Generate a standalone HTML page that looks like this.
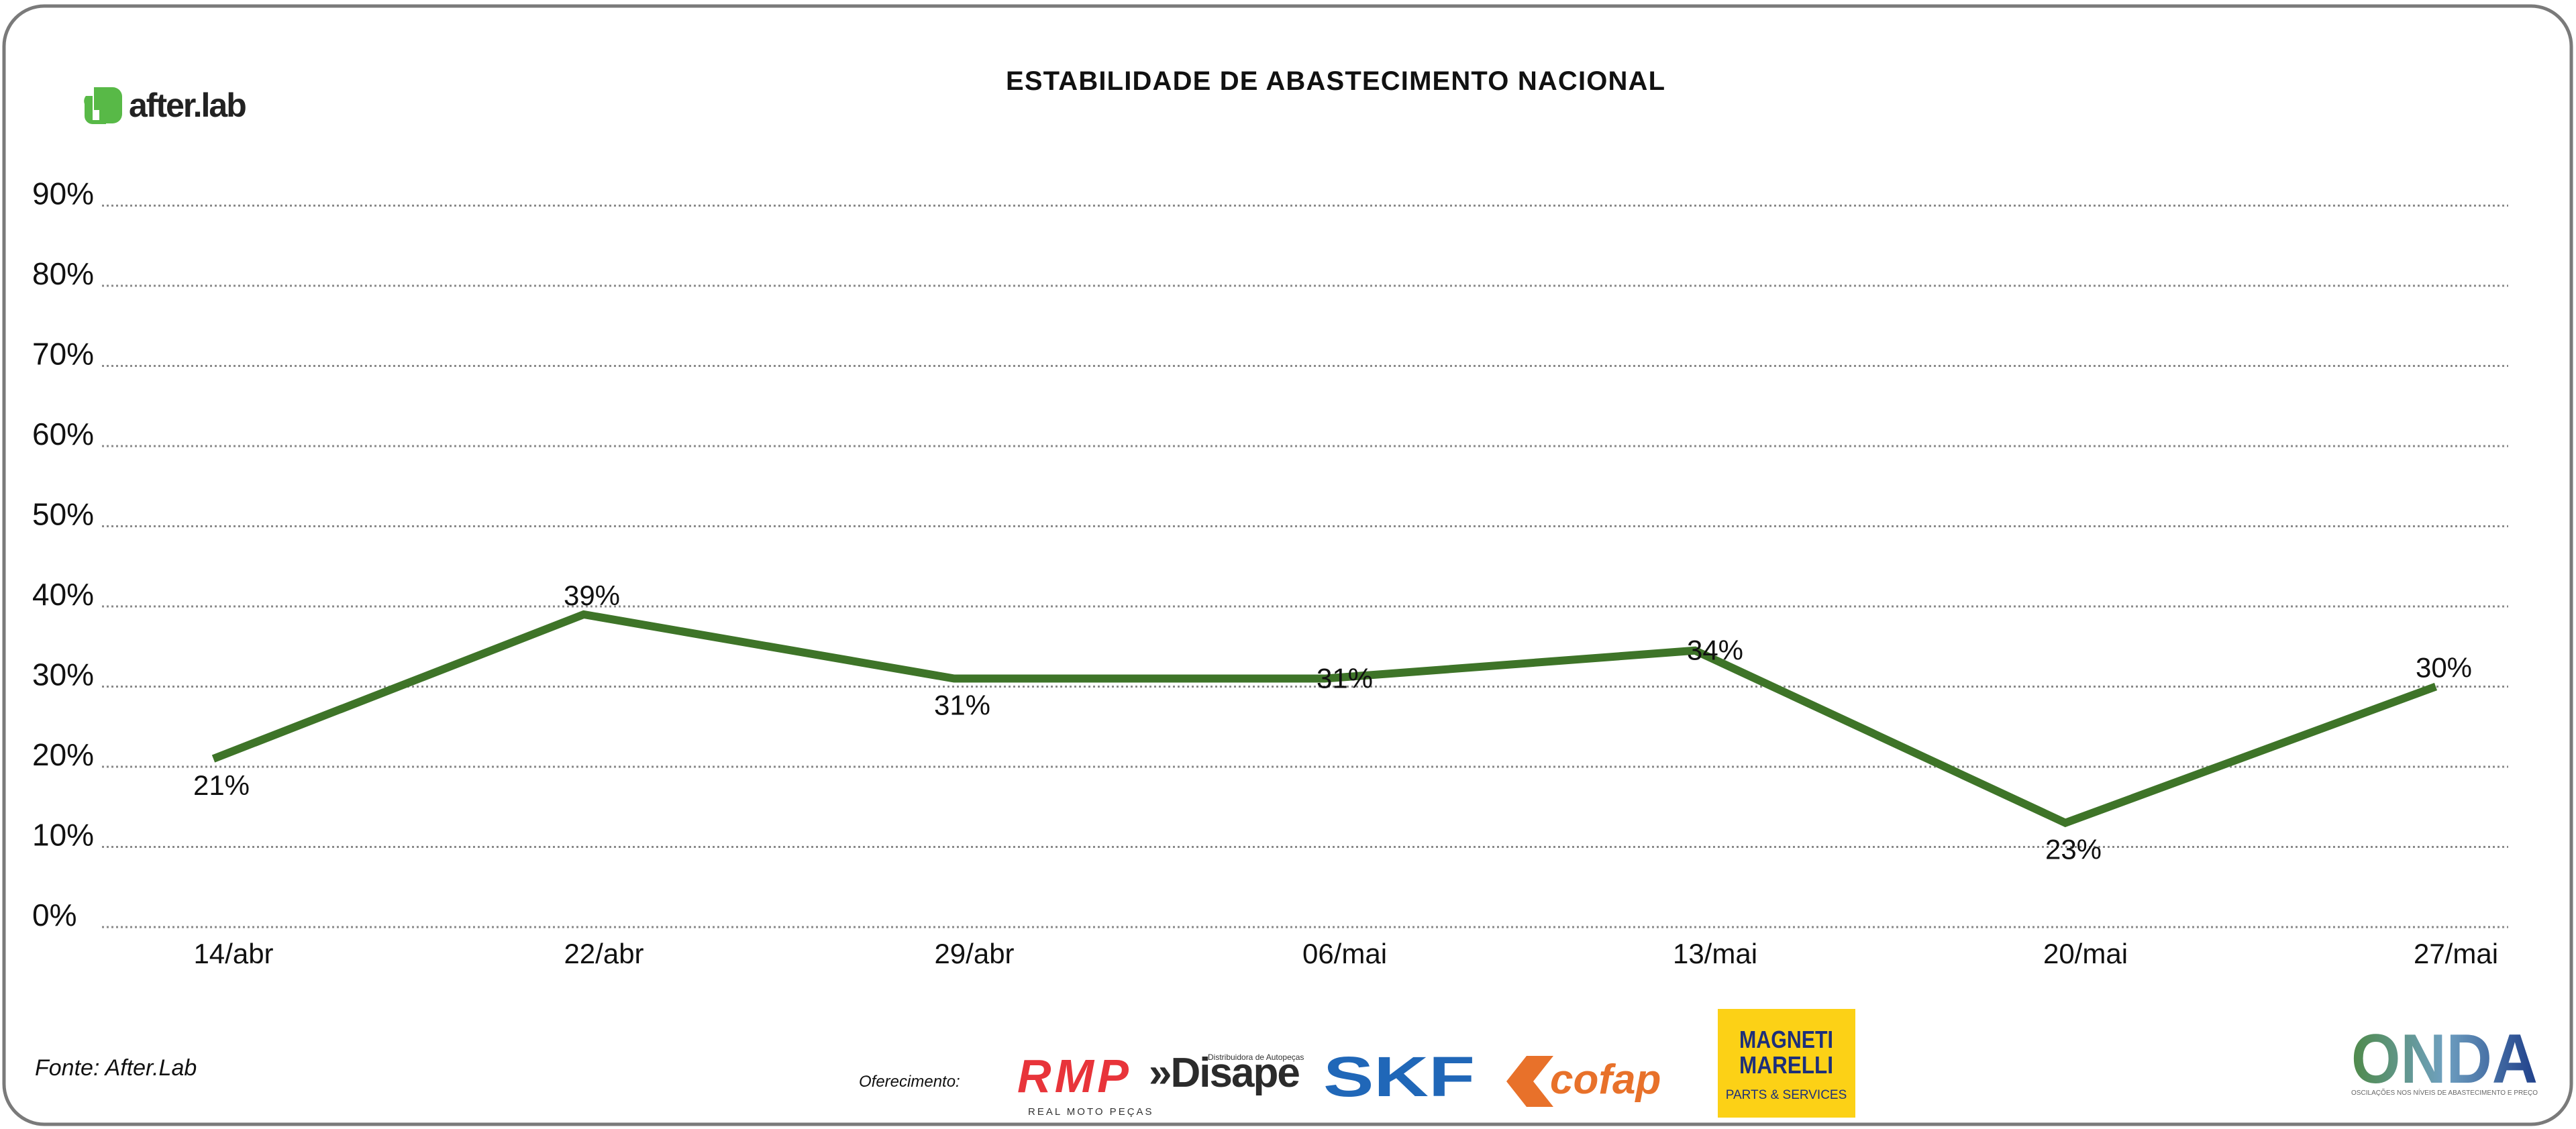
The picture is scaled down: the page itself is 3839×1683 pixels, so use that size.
<!DOCTYPE html>
<html><head><meta charset="utf-8"><style>
html,body{margin:0;padding:0;background:#fff;}
svg{display:block;font-family:"Liberation Sans Narrow","Liberation Sans",sans-serif;}
</style></head><body>
<svg id="chart" width="3839" height="1683" viewBox="0 0 3839 1683" xmlns="http://www.w3.org/2000/svg">
<rect x="6" y="9" width="3826" height="1667" rx="60" fill="#fff" stroke="#7a7a7a" stroke-width="5"/>
<g>
  <path d="M140 130 h28 a14 14 0 0 1 14 14 v26 a14 14 0 0 1 -14 14 h-20 v-20 h-8 z" fill="#58b947"/>
  <path d="M128 143 h10 v36 h20 v6 h-20 a12 12 0 0 1 -12 -12 v-18 a12 12 0 0 1 2 -12z" fill="#58b947"/>
  <text x="192" y="174" font-size="50" font-weight="bold" fill="#222" font-family="Liberation Sans, sans-serif" letter-spacing="-2">after.lab</text>
</g>
<text x="1990" y="134" text-anchor="middle" font-size="40" font-weight="bold" fill="#111" font-family="Liberation Sans, sans-serif" textLength="982">ESTABILIDADE DE ABASTECIMENTO NACIONAL</text>
<g id="grid"></g>
<g id="yticks"></g>
<g id="xticks"></g>
<g id="series"></g>
<g id="labels"></g>
<text x="52" y="1603" font-size="34" font-style="italic" fill="#111">Fonte: After.Lab</text>
<text x="1280" y="1620" font-size="24" font-style="italic" fill="#111">Oferecimento:</text>
<g>
  <text x="1516" y="1628" font-size="70" font-weight="bold" font-style="italic" fill="#e8343a" font-family="Liberation Sans, sans-serif" textLength="166">RMP</text>
  <text x="1532" y="1662" font-size="15" fill="#333" font-family="Liberation Sans, sans-serif" letter-spacing="3">REAL MOTO PEÇAS</text>
</g>
<g>
  <text x="1712" y="1620" font-size="62" font-weight="bold" fill="#2b2b2b" font-family="Liberation Sans, sans-serif" letter-spacing="-2">»Disape</text>
  <text x="1800" y="1580" font-size="12" fill="#333" font-family="Liberation Sans, sans-serif">Distribuidora de Autopeças</text>
</g>
<text x="1972" y="1634" font-size="84" font-weight="bold" fill="#2067b8" font-family="Liberation Sans, sans-serif" textLength="226" lengthAdjust="spacingAndGlyphs">SKF</text>
<g>
  <path d="M2245 1612 l30 -38 h40 l-30 38 l30 38 h-40 z" fill="#e8712a"/>
  <text x="2310" y="1630" font-size="62" font-weight="bold" font-style="italic" fill="#e8712a" font-family="Liberation Sans, sans-serif">cofap</text>
</g>
<g>
  <rect x="2560" y="1504" width="205" height="162" fill="#fcd116"/>
  <text x="2662" y="1562" text-anchor="middle" font-size="36" font-weight="bold" fill="#1d2f7a" font-family="Liberation Sans, sans-serif" textLength="140" lengthAdjust="spacingAndGlyphs">MAGNETI</text>
  <text x="2662" y="1600" text-anchor="middle" font-size="36" font-weight="bold" fill="#1d2f7a" font-family="Liberation Sans, sans-serif" textLength="140" lengthAdjust="spacingAndGlyphs">MARELLI</text>
  <text x="2662" y="1638" text-anchor="middle" font-size="19" fill="#1d2f7a" font-family="Liberation Sans, sans-serif">PARTS &amp; SERVICES</text>
</g>
<defs><linearGradient id="onda" x1="0" x2="1"><stop offset="0" stop-color="#4f8a4a"/><stop offset="0.5" stop-color="#6fa0c0"/><stop offset="1" stop-color="#1f3f8a"/></linearGradient></defs>
<g>
  <text x="3504" y="1614" font-size="104" font-weight="bold" fill="url(#onda)" font-family="Liberation Sans, sans-serif" textLength="278" lengthAdjust="spacingAndGlyphs">ONDA</text>
  <text x="3504" y="1632" font-size="10" fill="#666" font-family="Liberation Sans, sans-serif" textLength="278">OSCILAÇÕES NOS NÍVEIS DE ABASTECIMENTO E PREÇO</text>
</g>
</svg>
<script>
const categories = ["14/abr","22/abr","29/abr","06/mai","13/mai","20/mai","27/mai"];
const values = [21, 39, 31, 31, 34.5, 13, 30];
const valueLabels = ["21%","39%","31%","31%","34%","23%","30%"];
const labelPlacement = ["below","above","below","center","center","below","above"];
const yTicks = [0,10,20,30,40,50,60,70,80,90];
const yTickLabels = ["0%","10%","20%","30%","40%","50%","60%","70%","80%","90%"];

const NS = "http://www.w3.org/2000/svg";
const plotLeft = 152, plotRight = 3738;
const xFirst = 318, xLast = 3630;
const y0 = 1382, yStep = 11.95;
function yScale(v){ return y0 - v * yStep; }
function xScale(i){ return xFirst + i * (xLast - xFirst) / (categories.length - 1); }
function mk(tag, attrs, parent){ const e = document.createElementNS(NS, tag); for (const k in attrs) e.setAttribute(k, attrs[k]); parent.appendChild(e); return e; }

const grid = document.getElementById('grid');
const yt = document.getElementById('yticks');
yTicks.forEach((t, i) => {
  const l = mk('line', {x1: plotLeft, x2: plotRight, y1: yScale(t), y2: yScale(t), stroke: '#8a8a8a', 'stroke-width': 3, 'stroke-dasharray': '3 4'}, grid);
  
  
  const tx = mk('text', {x: 48, y: yScale(t) - 2, 'font-size': 46, fill: '#111'}, yt);
  tx.textContent = yTickLabels[i];
  
  
});

const xt = document.getElementById('xticks');
categories.forEach((c, i) => {
  const tx = mk('text', {x: xScale(i) + 30, y: 1436, 'font-size': 42, fill: '#111', 'text-anchor': 'middle'}, xt);
  tx.textContent = c;
  
  
});

const pts = values.map((v, i) => xScale(i) + ',' + yScale(v)).join(' ');
const line = mk('polyline', {points: pts, fill: 'none', stroke: '#3e7428', 'stroke-width': 12, 'stroke-linejoin': 'miter'}, document.getElementById('series'));



const lg = document.getElementById('labels');
values.forEach((v, i) => {
  const p = labelPlacement[i];
  const dy = p === 'above' ? -14 : (p === 'below' ? 54 : 14);
  const dx = p === 'center' ? 30 : 12;
  const tx = mk('text', {x: xScale(i) + dx, y: yScale(v) + dy, 'font-size': 42, fill: '#111', 'text-anchor': 'middle'}, lg);
  tx.textContent = valueLabels[i];
  
  
});
</script>
</body></html>
